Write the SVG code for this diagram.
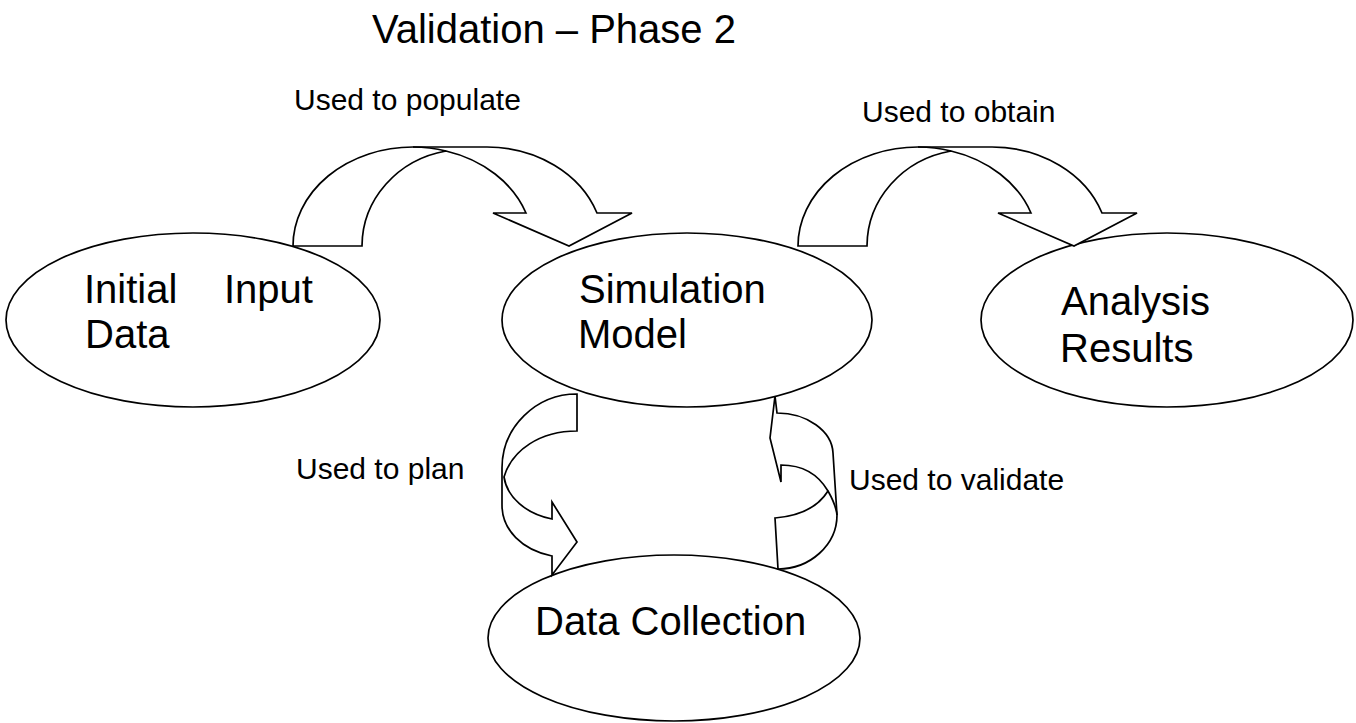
<svg xmlns="http://www.w3.org/2000/svg" width="1356" height="723" viewBox="0 0 1356 723">
<style>
.n{fill:#fff;stroke:#000;stroke-width:1.7}
.c{fill:#fff;stroke:#000;stroke-width:1.7;stroke-linejoin:miter}
.o{fill:none;stroke:#000;stroke-width:1.7}
text{font-family:"Liberation Sans",Arial,sans-serif;fill:#000}
.t{font-size:40px}
.l{font-size:30px}
</style>
<rect width="1356" height="723" fill="#fff"/>
<text class="t" x="372" y="43">Validation – Phase 2</text>
<g id="node-initial">
<ellipse class="n" cx="193" cy="320" rx="187" ry="87"/>
<text class="t"><tspan x="84" y="303">Initial</tspan><tspan x="224" y="303">Input</tspan><tspan x="85" y="348">Data</tspan></text>
</g>
<g id="node-simulation">
<ellipse class="n" cx="687" cy="320" rx="185" ry="87"/>
<text class="t"><tspan x="579" y="303">Simulation</tspan><tspan x="578" y="348">Model</tspan></text>
</g>
<g id="node-analysis">
<ellipse class="n" cx="1167" cy="320" rx="186" ry="87"/>
<text class="t"><tspan x="1061" y="315">Analysis</tspan><tspan x="1060" y="362">Results</tspan></text>
</g>
<g id="node-data">
<ellipse class="n" cx="674" cy="638" rx="186" ry="83"/>
<text class="t" x="535" y="635">Data Collection</text>
</g>
<g id="connectors">
<g id="arrow-populate">
<path class="c" d="M293,246 A120,99 0 0 1 413,147 L487,147 A117,99 0 0 1 597,213 L632,213 L569,246 L493,213 L526,213 A120,99 0 0 0 446,151 A103,97 0 0 0 362,246 Z"/>
<path class="o" d="M413,147 A120,99 0 0 1 446,151"/>
</g>
<g id="arrow-obtain" transform="translate(505,0)">
<path class="c" d="M293,246 A120,99 0 0 1 413,147 L487,147 A117,99 0 0 1 597,213 L632,213 L569,246 L493,213 L526,213 A120,99 0 0 0 446,151 A103,97 0 0 0 362,246 Z"/>
<path class="o" d="M413,147 A120,99 0 0 1 446,151"/>
</g>
<g id="arrow-plan">
<path class="c" d="M577,394 C536,394 502,427 502,468 L502,505 C502,530 522,550 552,556 L552,575 L577,542 L552,502 L552,519 C526,514 507,497 504,477 C512,450 540,431 577,431 Z"/>
</g>
<g id="arrow-validate">
<path class="c" d="M778,569 L775,518 C800,516 818,507 828,491 C818,474 802,465 781,465 L781,482 L770,438 L775,396 L777,413 C807,413 832,431 833,453 L837,515 C837,545 810,569 778,569 Z"/>
<path class="o" d="M828,491 C832,498 836,506 837,515"/>
</g>
<text class="l" x="294" y="110">Used to populate</text>
<text class="l" x="862" y="122">Used to obtain</text>
<text class="l" x="296" y="479">Used to plan</text>
<text class="l" x="849" y="490">Used to validate</text>
</g>
</svg>
